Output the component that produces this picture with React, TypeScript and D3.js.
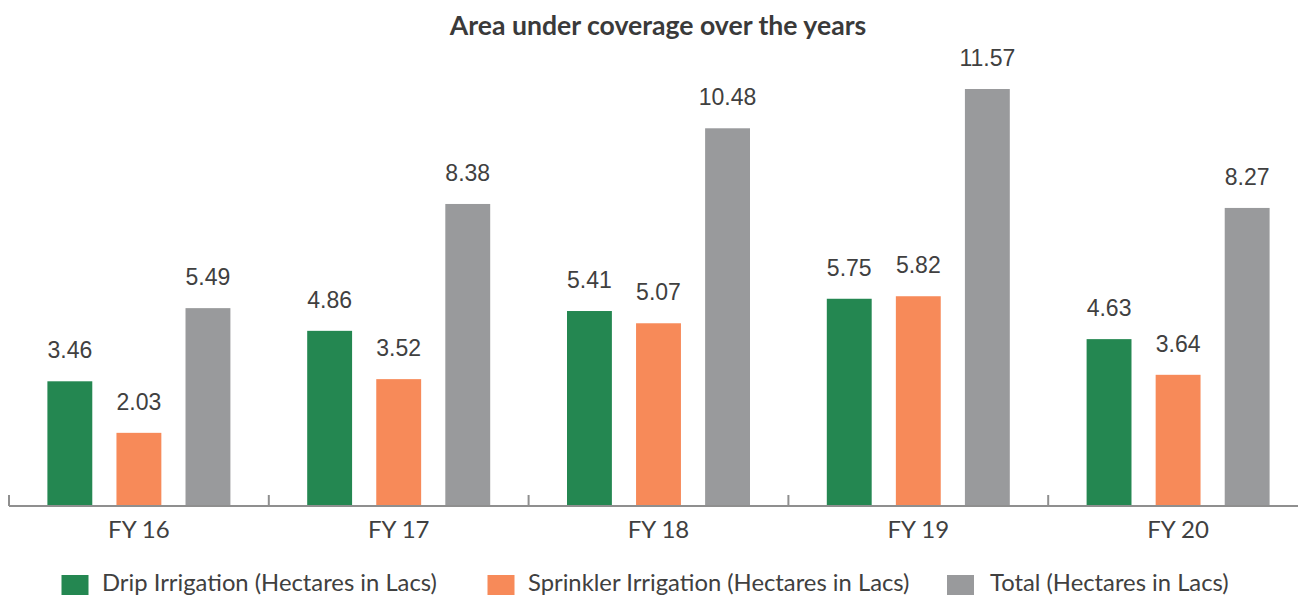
import React from "react";
import * as d3 from "d3";

const categories = ["FY 16", "FY 17", "FY 18", "FY 19", "FY 20"];
const seriesNames = [
  "Drip Irrigation (Hectares in Lacs)",
  "Sprinkler Irrigation (Hectares in Lacs)",
  "Total (Hectares in Lacs)",
];
const drip = [3.46, 4.86, 5.41, 5.75, 4.63];
const sprinkler = [2.03, 3.52, 5.07, 5.82, 3.64];
const total = [5.49, 8.38, 10.48, 11.57, 8.27];
const colors = ["#248751", "#F78A59", "#999A9C"];

const W = 1298;
const H = 596;
const baseY = 506;
const left = 9;
const bandW = 259.8;

const App = () => {
  const series = [drip, sprinkler, total];
  const x = d3
    .scaleBand<string>()
    .domain(categories)
    .range([left, left + bandW * categories.length]);
  const inner = d3
    .scaleBand<number>()
    .domain([0, 1, 2])
    .range([38.4, 221.4])
    .paddingInner(0.35);
  const y = d3.scaleLinear().domain([0, 11.57]).range([baseY, 89]);

  const legendSq = [61.5, 487.5, 947];
  const legendTx = [102, 528, 990];

  return (
    <svg
      width={W}
      height={H}
      style={{ position: "absolute", left: 0, top: 0, background: "#fff" }}
      fontFamily="Lato"
    >
      <text
        x={658}
        y={35}
        textAnchor="middle"
        fontWeight="bold"
        fontSize={26.6}
        fill="#3a3a3a"
      >
        Area under coverage over the years
      </text>

      {categories.map((c, i) => (
        <g key={c} transform={`translate(${x(c)},0)`}>
          {series.map((s, k) => (
            <g key={k}>
              <rect
                x={inner(k)}
                y={y(s[i])}
                width={inner.bandwidth()}
                height={baseY - y(s[i])}
                fill={colors[k]}
              />
              <text
                x={(inner(k) as number) + inner.bandwidth() / 2}
                y={y(s[i]) - 23}
                textAnchor="middle"
                fontFamily="Liberation Sans, Arial"
                fontSize={23}
                fill="#404040"
              >
                {s[i].toFixed(2)}
              </text>
            </g>
          ))}
          <text
            x={x.bandwidth() / 2}
            y={538}
            textAnchor="middle"
            fontSize={24}
            fill="#404040"
          >
            {c}
          </text>
        </g>
      ))}

      <line x1={left} x2={W} y1={baseY} y2={baseY} stroke="#8f8f8f" strokeWidth={2} />
      {categories.map((c) => (
        <line
          key={c}
          x1={x(c)}
          x2={x(c)}
          y1={baseY}
          y2={baseY - 11}
          stroke="#8f8f8f"
          strokeWidth={2}
        />
      ))}

      {seriesNames.map((n, k) => (
        <g key={n}>
          <rect x={legendSq[k]} y={575} width={27} height={20} fill={colors[k]} />
          <text x={legendTx[k]} y={591} fontSize={23.8} fill="#404040">
            {n}
          </text>
        </g>
      ))}
    </svg>
  );
};

export default App;
